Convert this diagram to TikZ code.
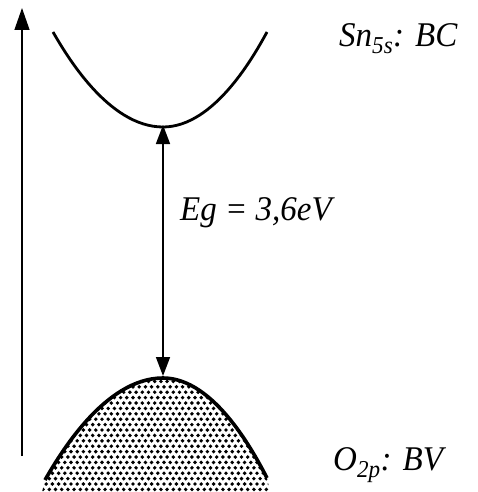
\documentclass[tikz,border=0pt]{standalone}
\usepackage{fontspec}
\setmainfont{Liberation Serif}
\usetikzlibrary{arrows.meta}
\begin{document}
\begin{tikzpicture}[x=1pt,y=1pt,
  lbl/.style={font=\itshape\fontsize{33}{33}\selectfont, anchor=base west, inner sep=0pt, yscale=1.05},
  band/.style={line width=2.8pt},
  tipA/.style={-{Triangle[length=22pt,width=15pt]}},
  tipB/.style={{Triangle[length=19pt,width=14pt]}-{Triangle[length=19pt,width=14pt]}},
  dot/.style={fill=black}]
\useasboundingbox (0,-492) rectangle (478,0);
% energy axis
\coordinate (ax0) at (22,-456);
\coordinate (ax1) at (22,-8);
\draw[line width=1.3pt, tipA] (ax0) -- (ax1);
% conduction band
\coordinate (cbm) at (163,-125);
\draw[band] (53,-32) parabola bend (163,-127) (267,-32);
% valence band with stipple
\coordinate (vbm) at (163,-376);
\begin{scope}
  \clip (45,-480) parabola bend (163,-378) (267,-478) -- (270,-492) -- (42,-492) -- cycle;
  \foreach \j in {0,...,22} {
    \foreach \i in {0,...,38} {
      \pgfmathsetmacro{\xx}{40+6.2*\i+3.1*mod(\j,2)}
      \pgfmathsetmacro{\yy}{-376-5.4*\j}
      \fill[dot] (\xx,\yy) circle (1.95pt);
    }
  }
\end{scope}
\draw[line width=3.6pt] (45,-480) parabola bend (163,-378) (267,-478);
% gap arrow
\draw[line width=1.6pt, tipB] (cbm) -- (vbm);
% labels
\node[lbl] (bc) at (339,-47) {Sn\textsubscript{5s}: BC};
\node[lbl] (eg) at (180,-220) {Eg = 3,6eV};
\node[lbl] (bv) at (333,-470) {O\textsubscript{2p}: BV};
\end{tikzpicture}
\end{document}
